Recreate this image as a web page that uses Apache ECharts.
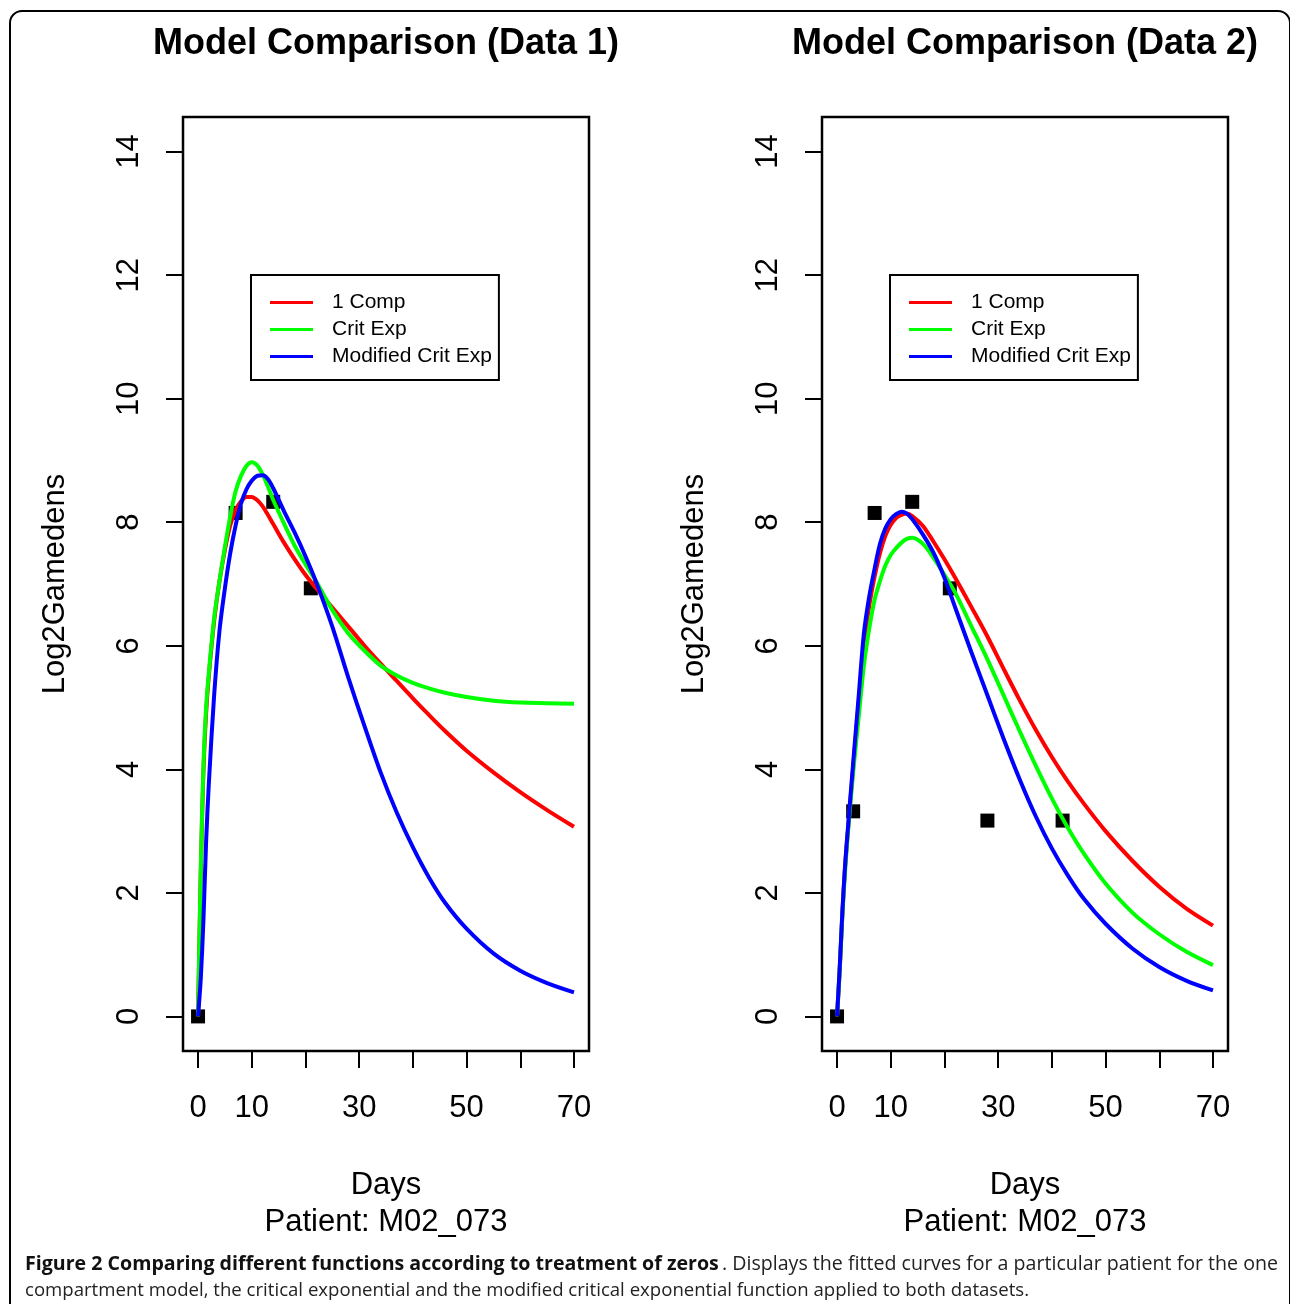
<!DOCTYPE html>
<html>
<head>
<meta charset="utf-8">
<script src="https://cdn.jsdelivr.net/npm/echarts@6/dist/echarts.min.js"></script>
<style>
html,body{margin:0;padding:0;background:#fff;}
#chart{width:1290px;height:1304px;}
</style>
</head>
<body>
<div id="chart"></div>
<script>
// ---------- data ----------
var panelTitles = ['Model Comparison (Data 1)', 'Model Comparison (Data 2)'];
var seriesNames = ['1 Comp', 'Crit Exp', 'Modified Crit Exp'];
var seriesColors = ['#ff0000', '#00ff00', '#0000ff'];
var xTicks = [0, 10, 20, 30, 40, 50, 60, 70];
var xTickLabels = [0, 10, 30, 50, 70];
var yTicks = [0, 2, 4, 6, 8, 10, 12, 14];

// observed points
var obs1Days = [0, 7, 14, 21];
var obs1Vals = [0, 8.15, 8.33, 6.93];
var obs2Days = [0, 3, 7, 14, 21, 28, 42];
var obs2Vals = [0, 3.32, 8.15, 8.33, 6.93, 3.17, 3.17];

// fitted curves
var fitDays  = [0, 0.5, 1, 1.5, 2, 3, 4, 5, 6, 7, 8, 9, 10, 11, 12, 13, 14, 16, 18, 20, 22, 25, 28, 31, 34, 37, 40, 43, 46, 50, 55, 60, 65, 70];
// Data 1
var oneComp1 = [0, 2.3, 3.95, 4.9, 5.5, 6.4, 7.05, 7.55, 7.95, 8.2, 8.34, 8.41, 8.41, 8.36, 8.26, 8.12, 7.97, 7.67, 7.4, 7.15, 6.93, 6.62, 6.31, 6.0, 5.71, 5.43, 5.15, 4.88, 4.62, 4.3, 3.95, 3.63, 3.34, 3.07];
var critExp1 = [0, 2.35, 4.05, 5.0, 5.55, 6.45, 7.05, 7.6, 8.1, 8.5, 8.75, 8.91, 8.97, 8.92, 8.78, 8.58, 8.36, 7.98, 7.62, 7.32, 7.04, 6.58, 6.2, 5.92, 5.68, 5.52, 5.4, 5.31, 5.24, 5.17, 5.11, 5.08, 5.07, 5.06];
var modCrit1 = [0, 0.6, 1.55, 2.82, 3.75, 5.2, 6.25, 6.93, 7.5, 7.95, 8.3, 8.53, 8.67, 8.75, 8.76, 8.7, 8.55, 8.18, 7.83, 7.45, 7.03, 6.31, 5.48, 4.7, 3.95, 3.3, 2.74, 2.25, 1.84, 1.42, 1.02, 0.74, 0.54, 0.39];
// Data 2
var oneComp2 = [0, 0.75, 1.68, 2.42, 2.98, 4.02, 5.05, 6.0, 6.65, 7.12, 7.5, 7.78, 7.96, 8.07, 8.12, 8.14, 8.1, 7.94, 7.68, 7.4, 7.1, 6.63, 6.15, 5.63, 5.12, 4.64, 4.2, 3.8, 3.44, 3.0, 2.52, 2.1, 1.75, 1.47];
var critExp2 = [0, 0.75, 1.65, 2.35, 2.95, 3.95, 4.82, 5.68, 6.28, 6.75, 7.05, 7.3, 7.47, 7.58, 7.67, 7.73, 7.75, 7.65, 7.42, 7.15, 6.86, 6.32, 5.78, 5.2, 4.62, 4.06, 3.53, 3.05, 2.63, 2.15, 1.68, 1.33, 1.05, 0.83];
var modCrit2 = [0, 0.8, 1.7, 2.45, 3.02, 4.1, 5.15, 6.2, 6.8, 7.25, 7.65, 7.9, 8.05, 8.13, 8.17, 8.14, 8.05, 7.8, 7.5, 7.1, 6.62, 5.9, 5.2, 4.5, 3.84, 3.24, 2.72, 2.28, 1.9, 1.5, 1.1, 0.8, 0.58, 0.42];

var captionBold = 'Figure 2 Comparing different functions according to treatment of zeros';
var captionRest1 = '. Displays the fitted curves for a particular patient for the one';
var captionLine2 = 'compartment model, the critical exponential and the modified critical exponential function applied to both datasets.';
var patientLabel = 'Patient: M02_073';

// ---------- build ----------
function zip(xs, ys) { return xs.map(function (x, i) { return [x, ys[i]]; }); }
var FONT = '"Liberation Sans", Arial, sans-serif';
var gridLefts = [183, 822];
var curves = [[oneComp1, critExp1, modCrit1], [oneComp2, critExp2, modCrit2]];
var obs = [[obs1Days, obs1Vals], [obs2Days, obs2Vals]];

var grids = [], xAxes = [], yAxes = [], series = [], titles = [], legends = [];
for (var p = 0; p < 2; p++) {
  grids.push({left: gridLefts[p], top: 117, width: 406, height: 934, show: true,
    borderColor: '#000', borderWidth: 2.5, backgroundColor: 'transparent', containLabel: false});
  xAxes.push({gridIndex: p, type: 'value', min: -2.8, max: 72.8,
    axisLine: {show: false, onZero: false}, splitLine: {show: false},
    axisTick: {show: true, length: 17, lineStyle: {color: '#000', width: 2}, customValues: xTicks},
    axisLabel: {customValues: xTickLabels, fontSize: 31, color: '#000', margin: 42, fontFamily: FONT},
    name: 'Days\n' + patientLabel, nameLocation: 'middle', nameGap: 116,
    nameTextStyle: {fontSize: 31, lineHeight: 37, color: '#000', fontFamily: FONT}});
  yAxes.push({gridIndex: p, type: 'value', min: -0.56, max: 14.56,
    axisLine: {show: false, onZero: false}, splitLine: {show: false},
    axisTick: {show: true, length: 17, lineStyle: {color: '#000', width: 2}, customValues: yTicks},
    axisLabel: {customValues: yTicks, rotate: 90, fontSize: 31, color: '#000', margin: 38, fontFamily: FONT},
    name: 'Log2Gamedens', nameLocation: 'middle', nameGap: 112,
    nameTextStyle: {fontSize: 31, color: '#000', fontFamily: FONT}});
  series.push({type: 'scatter', name: 'Observed ' + (p + 1), xAxisIndex: p, yAxisIndex: p,
    data: zip(obs[p][0], obs[p][1]), symbol: 'rect', symbolSize: 14,
    itemStyle: {color: '#000', opacity: 1}, z: 2, silent: true});
  for (var s = 0; s < 3; s++) {
    series.push({type: 'line', name: seriesNames[s], xAxisIndex: p, yAxisIndex: p,
      data: zip(fitDays, curves[p][s]), showSymbol: false, symbol: 'none',
      smooth: 0.3, color: seriesColors[s],
      lineStyle: {color: seriesColors[s], width: 4}, z: 3 + s, silent: true});
  }
  titles.push({text: panelTitles[p], left: gridLefts[p] + 203, top: 26, textAlign: 'center', padding: 0,
    textStyle: {fontSize: 36, fontWeight: 'bold', color: '#000', fontFamily: FONT}});
  legends.push({left: gridLefts[p] + 68, top: 275, orient: 'vertical', data: seriesNames,
    selectedMode: false, icon: 'rect', itemWidth: 43, itemHeight: 3, itemGap: 6,
    borderColor: '#000', borderWidth: 2, padding: [17, 7, 13, 19], backgroundColor: '#fff',
    textStyle: {fontSize: 21, color: '#000', fontFamily: FONT, padding: [0, 0, 0, 14]}});
}

var chart = echarts.init(document.getElementById('chart'), null, {renderer: 'canvas'});
chart.setOption({
  animation: false,
  backgroundColor: '#fff',
  title: titles,
  legend: legends,
  grid: grids,
  xAxis: xAxes,
  yAxis: yAxes,
  series: series,
  graphic: [
    {type: 'rect', shape: {x: 10, y: 11, width: 1280, height: 1330, r: 12},
      style: {fill: null, stroke: '#000', lineWidth: 2}, silent: true, z: -1},
    {type: 'text', left: 25, top: 1254, silent: true,
      style: {text: captionBold, font: 'bold 19.6px "Open Sans", sans-serif', fill: '#111'}},
    {type: 'text', right: 12, top: 1254, silent: true,
      style: {text: captionRest1, font: '19.6px "Open Sans", sans-serif', fill: '#222', align: 'right'}},
    {type: 'text', left: 25, top: 1281, silent: true,
      style: {text: captionLine2, font: '18.6px "Open Sans", sans-serif', fill: '#222'}}
  ]
});
</script>
</body>
</html>
